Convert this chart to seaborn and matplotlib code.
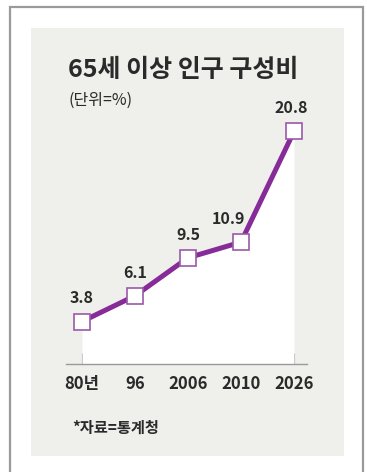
import matplotlib
matplotlib.use("Agg")
import matplotlib.pyplot as plt
from matplotlib.patches import Rectangle
import seaborn as sns
import pandas as pd

categories = ["80년", "96", "2006", "2010", "2026"]
values = [3.8, 6.1, 9.5, 10.9, 20.8]
value_labels = ["3.8", "6.1", "9.5", "10.9", "20.8"]
title = "65세 이상 인구 구성비"
unit = "(단위=%)"
source = "*자료=통계청"

sns.set_style("white")
plt.rcParams['font.family'] = ['Liberation Sans Narrow', 'Noto Sans CJK KR', 'DejaVu Sans']

W, H = 367, 472
fig = plt.figure(figsize=(W / 100, H / 100), dpi=100)
fig.patch.set_facecolor("white")

def fx(px):
    return px / W

def fy(py):
    return 1 - py / H

# outer frame
fig.patches.append(Rectangle((fx(10), fy(480)), fx(353), (480 - 7) / H, transform=fig.transFigure,
                             facecolor="none", edgecolor="#9a9a9a", linewidth=1.6, zorder=-10))
# gray panel
fig.patches.append(Rectangle((fx(31), fy(456)), fx(313), (456 - 28) / H, transform=fig.transFigure,
                             facecolor="#efefeb", edgecolor="none", zorder=-10))

# axes: x spine from 66 to 307 px, y=0 at 364 px, top at 40 px
ax_left, ax_right, ax_bottom, ax_top = 66, 307, 364, 40
ax = fig.add_axes([fx(ax_left), fy(ax_bottom), (ax_right - ax_left) / W, (ax_bottom - ax_top) / H])
ax.set_facecolor("none")
ax.set_zorder(5)

df = pd.DataFrame({"x": range(len(categories)), "v": values})
spacing = 53.0
ax.set_xlim(-(82 - ax_left) / spacing, 4 + (ax_right - 294) / spacing)
ppu = 11.18
ax.set_ylim(0, (ax_bottom - ax_top) / ppu)

ax.fill_between(df["x"], 0, df["v"], color="white", zorder=1, linewidth=0)
purple = "#862b97"
sns.lineplot(data=df, x="x", y="v", ax=ax, color=purple, linewidth=3.6, marker="s",
             markersize=11, markerfacecolor="white", markeredgecolor="#9a5aa8",
             markeredgewidth=1.2, zorder=3)

label_dx = [0, 0, 0, -9, -2]  # horizontal nudges (points) for value labels
for i, (v, lab) in enumerate(zip(values, value_labels)):
    ax.annotate(lab, (i, v), xytext=(label_dx[i], 11), textcoords="offset points", ha="center",
                va="bottom", fontsize=11.5, fontweight="bold", color="#2a2a2a")

for s in ["top", "right", "left"]:
    ax.spines[s].set_visible(False)
ax.spines["bottom"].set_color("#999999")
ax.spines["bottom"].set_linewidth(1.0)
ax.set_xticks(range(len(categories)))
ax.set_xticklabels(categories, fontsize=12, fontweight="bold", color="#2a2a2a")
ax.tick_params(axis="x", direction="in", length=8, color="#999999", width=0.8, pad=8, bottom=True)
ax.set_yticks([])
ax.set_xlabel("")
ax.set_ylabel("")

fig.text(fx(68), fy(70), title, fontsize=18, fontweight="bold", va="center", ha="left",
         color="#2a2a2a", family=['Noto Sans CJK KR', 'DejaVu Sans'])
fig.text(fx(69), fy(100), unit, fontsize=11.5, va="center", ha="left", color="#2a2a2a",
         family=['Noto Sans CJK KR', 'DejaVu Sans'])
fig.text(fx(72), fy(428), source, fontsize=11, fontweight="bold", va="center", ha="left",
         color="#2a2a2a", family=['Noto Sans CJK KR', 'DejaVu Sans'])

fig.savefig("out.png", dpi=100)
